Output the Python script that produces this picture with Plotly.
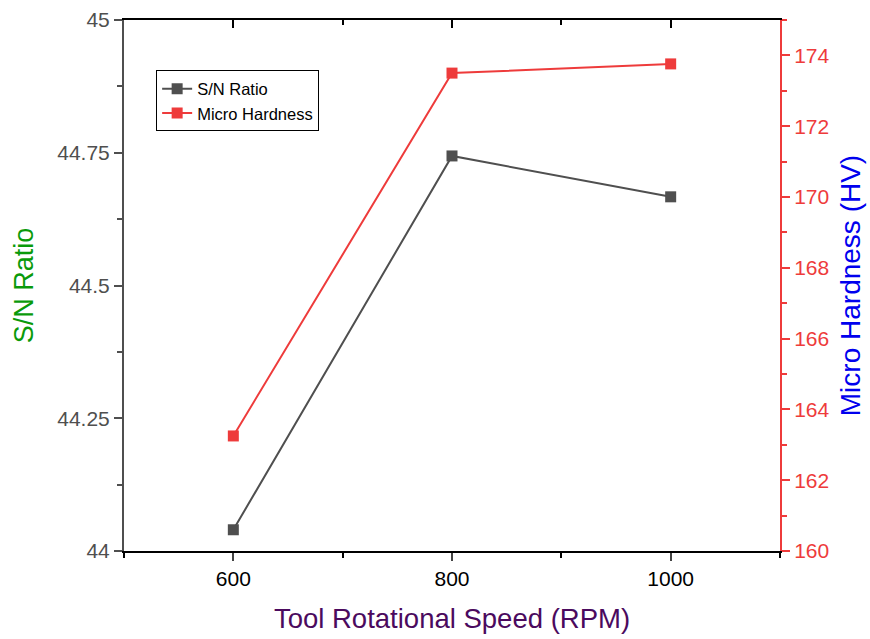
import plotly.graph_objects as go

speed = [600, 800, 1000]
sn_ratio = [44.04, 44.744, 44.667]
hardness = [163.25, 173.5, 173.76]

x_ticks = [600, 800, 1000]
left_ticks = [44, 44.25, 44.5, 44.75, 45]
left_labels = ["44", "44.25", "44.5", "44.75", "45"]
right_ticks = [160, 162, 164, 166, 168, 170, 172, 174]

GRAY = "#4f4f4f"
RED = "#ee3b3b"
FONT = "Liberation Sans, Arial, sans-serif"

fig = go.Figure()
fig.add_trace(go.Scatter(x=speed, y=sn_ratio, name="S/N Ratio", mode="lines+markers",
                         line=dict(color=GRAY, width=2),
                         marker=dict(symbol="square", size=11, color=GRAY)))
fig.add_trace(go.Scatter(x=speed, y=hardness, name="Micro Hardness", mode="lines+markers",
                         yaxis="y2",
                         line=dict(color=RED, width=2),
                         marker=dict(symbol="square", size=11, color=RED)))
# invisible trace to activate top mirror axis
fig.add_trace(go.Scatter(x=[speed[0]], y=[sn_ratio[0]], xaxis="x2", yaxis="y",
                         mode="markers", marker=dict(opacity=0), showlegend=False,
                         hoverinfo="skip"))

fig.update_layout(
    width=870, height=639,
    margin=dict(l=124, r=90, t=20, b=88),
    paper_bgcolor="white", plot_bgcolor="white",
    font=dict(family=FONT, size=21, color="black"),
    xaxis=dict(range=[500, 1100], tickvals=x_ticks, ticks="outside", ticklen=8, tickwidth=2,
               linecolor="black", linewidth=2, showline=True, showgrid=False, zeroline=False,
               tickfont=dict(size=21, color="black"), automargin=False,
               minor=dict(dtick=100, tick0=500, ticks="outside", ticklen=5, tickwidth=2, tickcolor="black"),
               title=dict(text="Tool Rotational Speed (RPM)", font=dict(size=27.5, color="#4b0a5e"), standoff=20)),
    xaxis2=dict(range=[500, 1100], overlaying="x", side="top", anchor="y",
                tickvals=x_ticks, ticks="inside", ticklen=8, tickwidth=2, tickcolor="black",
                showticklabels=False, showline=True, linecolor="black", linewidth=2,
                showgrid=False, zeroline=False, automargin=False,
                minor=dict(dtick=100, tick0=500, ticks="inside", ticklen=5, tickwidth=2, tickcolor="black")),
    yaxis=dict(range=[44, 45], tickvals=left_ticks, ticktext=left_labels, ticks="outside",
               ticklen=8, tickwidth=2, tickcolor=GRAY, linecolor=GRAY, linewidth=2, showline=True,
               showgrid=False, zeroline=False, tickfont=dict(size=21, color=GRAY), automargin=False,
               minor=dict(dtick=0.125, tick0=44, ticks="outside", ticklen=5, tickwidth=2, tickcolor=GRAY),
               title=dict(text="S/N Ratio", font=dict(size=27, color="#0a9a0a"), standoff=16)),
    yaxis2=dict(range=[160, 175], overlaying="y", side="right", tickvals=right_ticks,
                ticks="outside", ticklen=8, tickwidth=2, tickcolor=RED, linecolor=RED, linewidth=2,
                showline=True, showgrid=False, zeroline=False, tickfont=dict(size=21, color=RED),
                automargin=False,
                minor=dict(dtick=1, tick0=160, ticks="outside", ticklen=5, tickwidth=2, tickcolor=RED),
                title=dict(text="Micro Hardness (HV)", font=dict(size=28, color="#0000ee"), standoff=12)),
    legend=dict(x=0.049, y=0.905, xanchor="left", yanchor="top", bgcolor="white",
                bordercolor="black", borderwidth=1, font=dict(size=16.5, color="black"),
                tracegroupgap=0, itemwidth=30),
    showlegend=True,
)

fig.write_html("out.html")
